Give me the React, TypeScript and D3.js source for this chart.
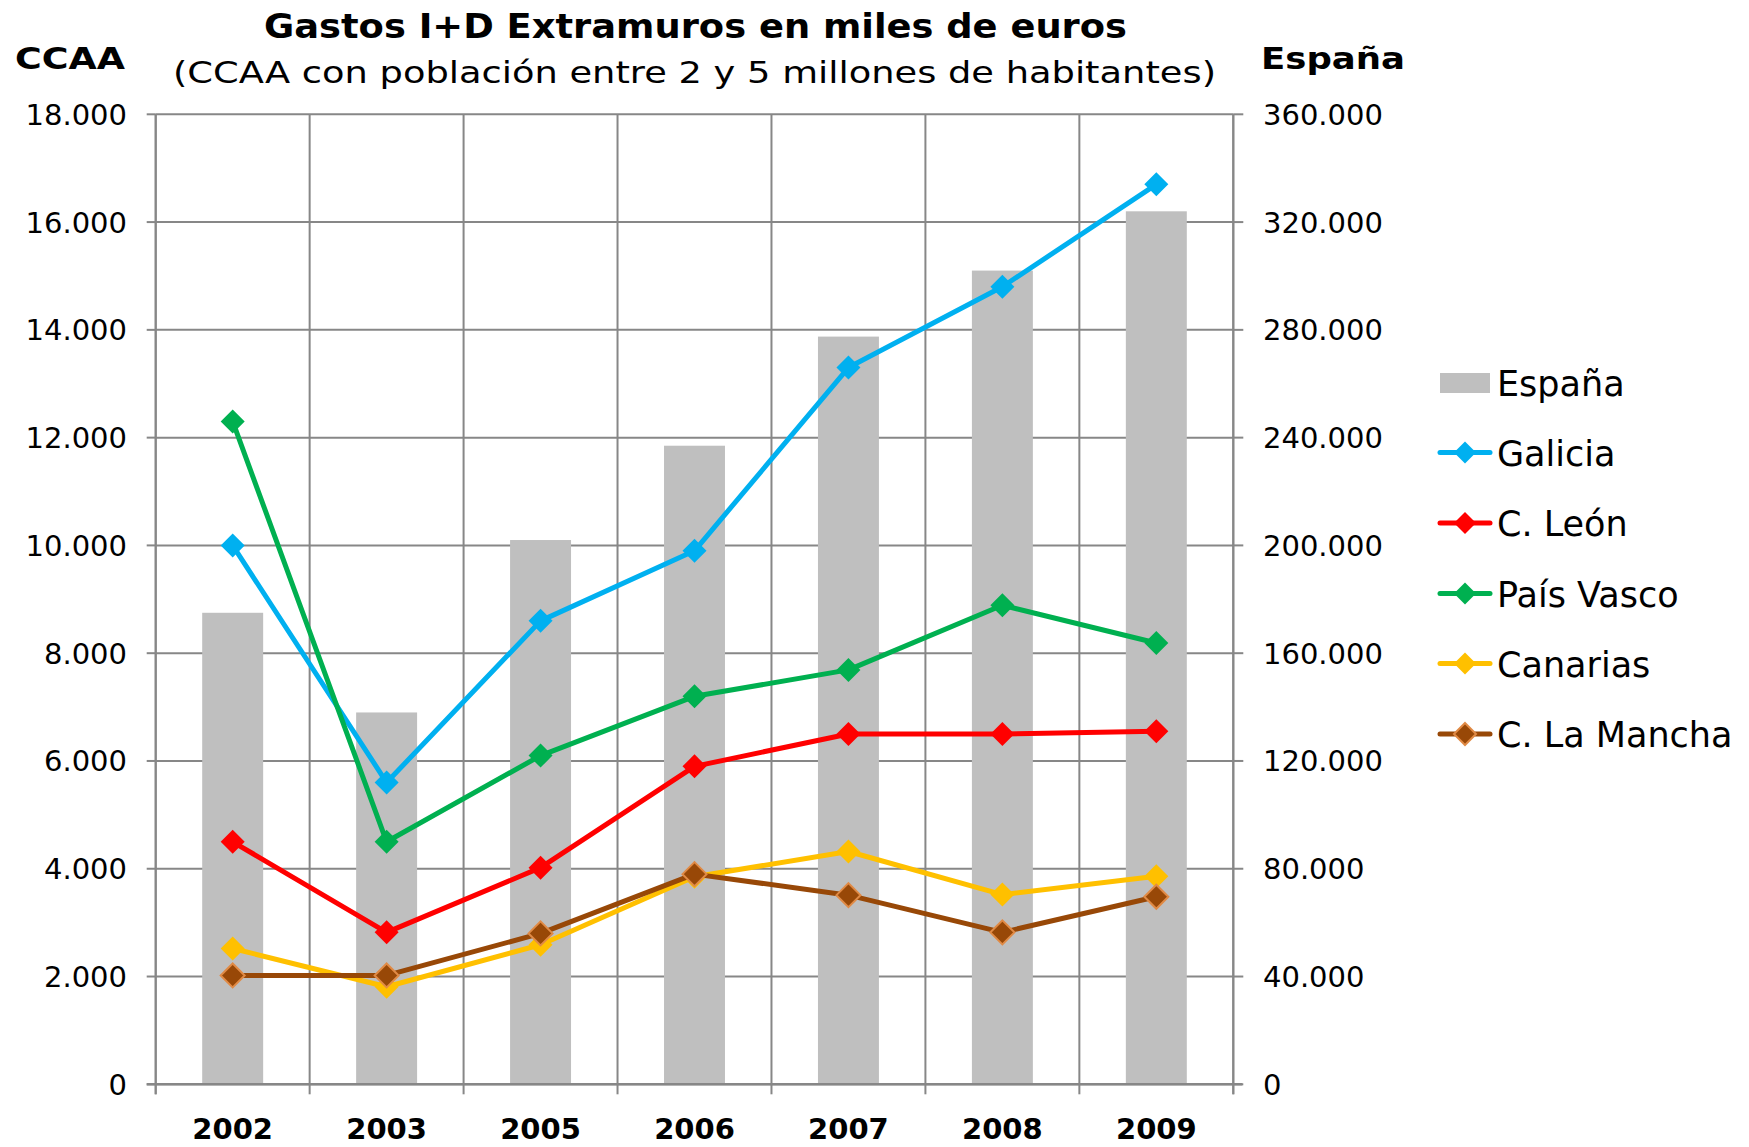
import React from "react";
import * as d3 from "d3";

const years = ["2002", "2003", "2005", "2006", "2007", "2008", "2009"];
const espana = [175000, 138000, 202000, 237000, 277500, 302000, 324000];
const galicia = [10000, 5600, 8600, 9900, 13300, 14800, 16700];
const cLeon = [4500, 2820, 4020, 5900, 6500, 6500, 6550];
const paisVasco = [12300, 4500, 6100, 7200, 7690, 8890, 8190];
const canarias = [2520, 1810, 2590, 3850, 4320, 3520, 3860];
const cLaMancha = [2020, 2020, 2800, 3900, 3510, 2820, 3480];
const leftTicks = [0, 2000, 4000, 6000, 8000, 10000, 12000, 14000, 16000, 18000];
const rightTicks = [0, 40000, 80000, 120000, 160000, 200000, 240000, 280000, 320000, 360000];

const seriesNames = ["Galicia", "C. León", "País Vasco", "Canarias", "C. La Mancha"];
const seriesValues = [galicia, cLeon, paisVasco, canarias, cLaMancha];
const seriesColors = ["#00b0f0", "#ff0000", "#00b050", "#ffc000", "#984807"];
const seriesMarkerStroke = ["none", "none", "none", "none", "#e08a45"];

const W = 1749;
const H = 1147;
const L = 155.7;
const R = 1233.3;
const T = 114.3;
const B = 1084.3;
const FONT = "DejaVu Sans";
const GRID = "#878787";

const loc = d3.formatLocale({ decimal: ",", thousands: ".", grouping: [3], currency: ["", ""] });
const fmt = loc.format(",");

function diamond(cx: number, cy: number, h: number) {
  return `M${cx},${cy - h}L${cx + h},${cy}L${cx},${cy + h}L${cx - h},${cy}Z`;
}

export default function App() {
  const x = d3.scaleBand<string>().domain(years).range([L, R]).padding(0);
  const bw = x.bandwidth();
  const yL = d3.scaleLinear().domain([0, 18000]).range([B, T]);
  const yR = d3.scaleLinear().domain([0, 360000]).range([B, T]);
  const barW = bw * 0.396;
  const cx = (y: string) => (x(y) as number) + bw / 2;
  const line = d3
    .line<number>()
    .x((_, i) => cx(years[i]))
    .y((d) => yL(d));

  const boundaries = years.map((y) => x(y) as number).concat([R]);

  const legendX = 1440;
  const legendRows = [383, 452.5, 523, 593.5, 663.5, 734];

  return (
    <svg
      width={W}
      height={H}
      style={{ position: "absolute", left: 0, top: 0, display: "block", background: "#fff" }}
      fontFamily={FONT}
    >
      <rect x={0} y={0} width={W} height={H} fill="#fff" />
      {/* horizontal grid */}
      {leftTicks.map((t) => (
        <line key={"h" + t} x1={L} x2={R} y1={yL(t)} y2={yL(t)} stroke={GRID} strokeWidth={2} />
      ))}
      {/* vertical grid */}
      {boundaries.map((b, i) => (
        <line key={"v" + i} x1={b} x2={b} y1={T} y2={B} stroke={GRID} strokeWidth={2} />
      ))}
      {/* bars */}
      {years.map((y, i) => (
        <rect
          key={"b" + y}
          x={cx(y) - barW / 2}
          y={yR(espana[i])}
          width={barW}
          height={B - yR(espana[i])}
          fill="#bfbfbf"
        />
      ))}
      {/* axes */}
      <line x1={L - 9} x2={R + 9} y1={B} y2={B} stroke={GRID} strokeWidth={2.5} />
      <line x1={L} x2={L} y1={T} y2={B + 10} stroke={GRID} strokeWidth={2} />
      <line x1={R} x2={R} y1={T} y2={B + 10} stroke={GRID} strokeWidth={2} />
      {leftTicks.map((t) => (
        <line key={"lt" + t} x1={L - 9} x2={L} y1={yL(t)} y2={yL(t)} stroke={GRID} strokeWidth={2} />
      ))}
      {rightTicks.map((t) => (
        <line key={"rt" + t} x1={R} x2={R + 10} y1={yR(t)} y2={yR(t)} stroke={GRID} strokeWidth={2} />
      ))}
      {boundaries.map((b, i) => (
        <line key={"xt" + i} x1={b} x2={b} y1={B} y2={B + 10} stroke={GRID} strokeWidth={2} />
      ))}
      {/* tick labels */}
      {leftTicks.map((t) => (
        <text key={"ll" + t} x={127} y={yL(t) + 10.5} textAnchor="end" fontSize={29} fill="#000">
          {fmt(t)}
        </text>
      ))}
      {rightTicks.map((t) => (
        <text key={"rl" + t} x={1263} y={yR(t) + 10.5} textAnchor="start" fontSize={29} fill="#000">
          {fmt(t)}
        </text>
      ))}
      {years.map((y) => (
        <text key={"xl" + y} x={cx(y)} y={1139} textAnchor="middle" fontSize={29} fontWeight="bold" fill="#000">
          {y}
        </text>
      ))}
      {/* series */}
      {seriesValues.map((vals, s) => (
        <g key={"s" + s}>
          <path d={line(vals) as string} fill="none" stroke={seriesColors[s]} strokeWidth={5} strokeLinejoin="round" />
          {vals.map((v, i) => (
            <path
              key={"m" + i}
              d={diamond(cx(years[i]), yL(v), 12)}
              fill={seriesColors[s]}
              stroke={seriesMarkerStroke[s]}
              strokeWidth={2}
            />
          ))}
        </g>
      ))}
      {/* titles */}
      <text x={264} y={38} fontSize={33} fontWeight="bold" textLength={863} lengthAdjust="spacingAndGlyphs">
        Gastos I+D Extramuros en miles de euros
      </text>
      <text x={173} y={83} fontSize={31} textLength={1043} lengthAdjust="spacingAndGlyphs">
        (CCAA con población entre 2 y 5 millones de habitantes)
      </text>
      <text x={15} y={69} fontSize={30} fontWeight="bold" textLength={110} lengthAdjust="spacingAndGlyphs">
        CCAA
      </text>
      <text x={1261} y={69} fontSize={30} fontWeight="bold" textLength={144} lengthAdjust="spacingAndGlyphs">
        España
      </text>
      {/* legend */}
      <rect x={legendX} y={legendRows[0] - 10} width={50} height={20} fill="#bfbfbf" />
      <text x={1497} y={legendRows[0] + 13} fontSize={35}>
        España
      </text>
      {seriesNames.map((n, s) => (
        <g key={"lg" + s}>
          <line
            x1={legendX}
            x2={legendX + 50}
            y1={legendRows[s + 1]}
            y2={legendRows[s + 1]}
            stroke={seriesColors[s]}
            strokeWidth={5}
            strokeLinecap="round"
          />
          <path
            d={diamond(legendX + 25, legendRows[s + 1], 11)}
            fill={seriesColors[s]}
            stroke={seriesMarkerStroke[s]}
            strokeWidth={2}
          />
          <text x={1497} y={legendRows[s + 1] + 13} fontSize={35}>
            {n}
          </text>
        </g>
      ))}
    </svg>
  );
}
